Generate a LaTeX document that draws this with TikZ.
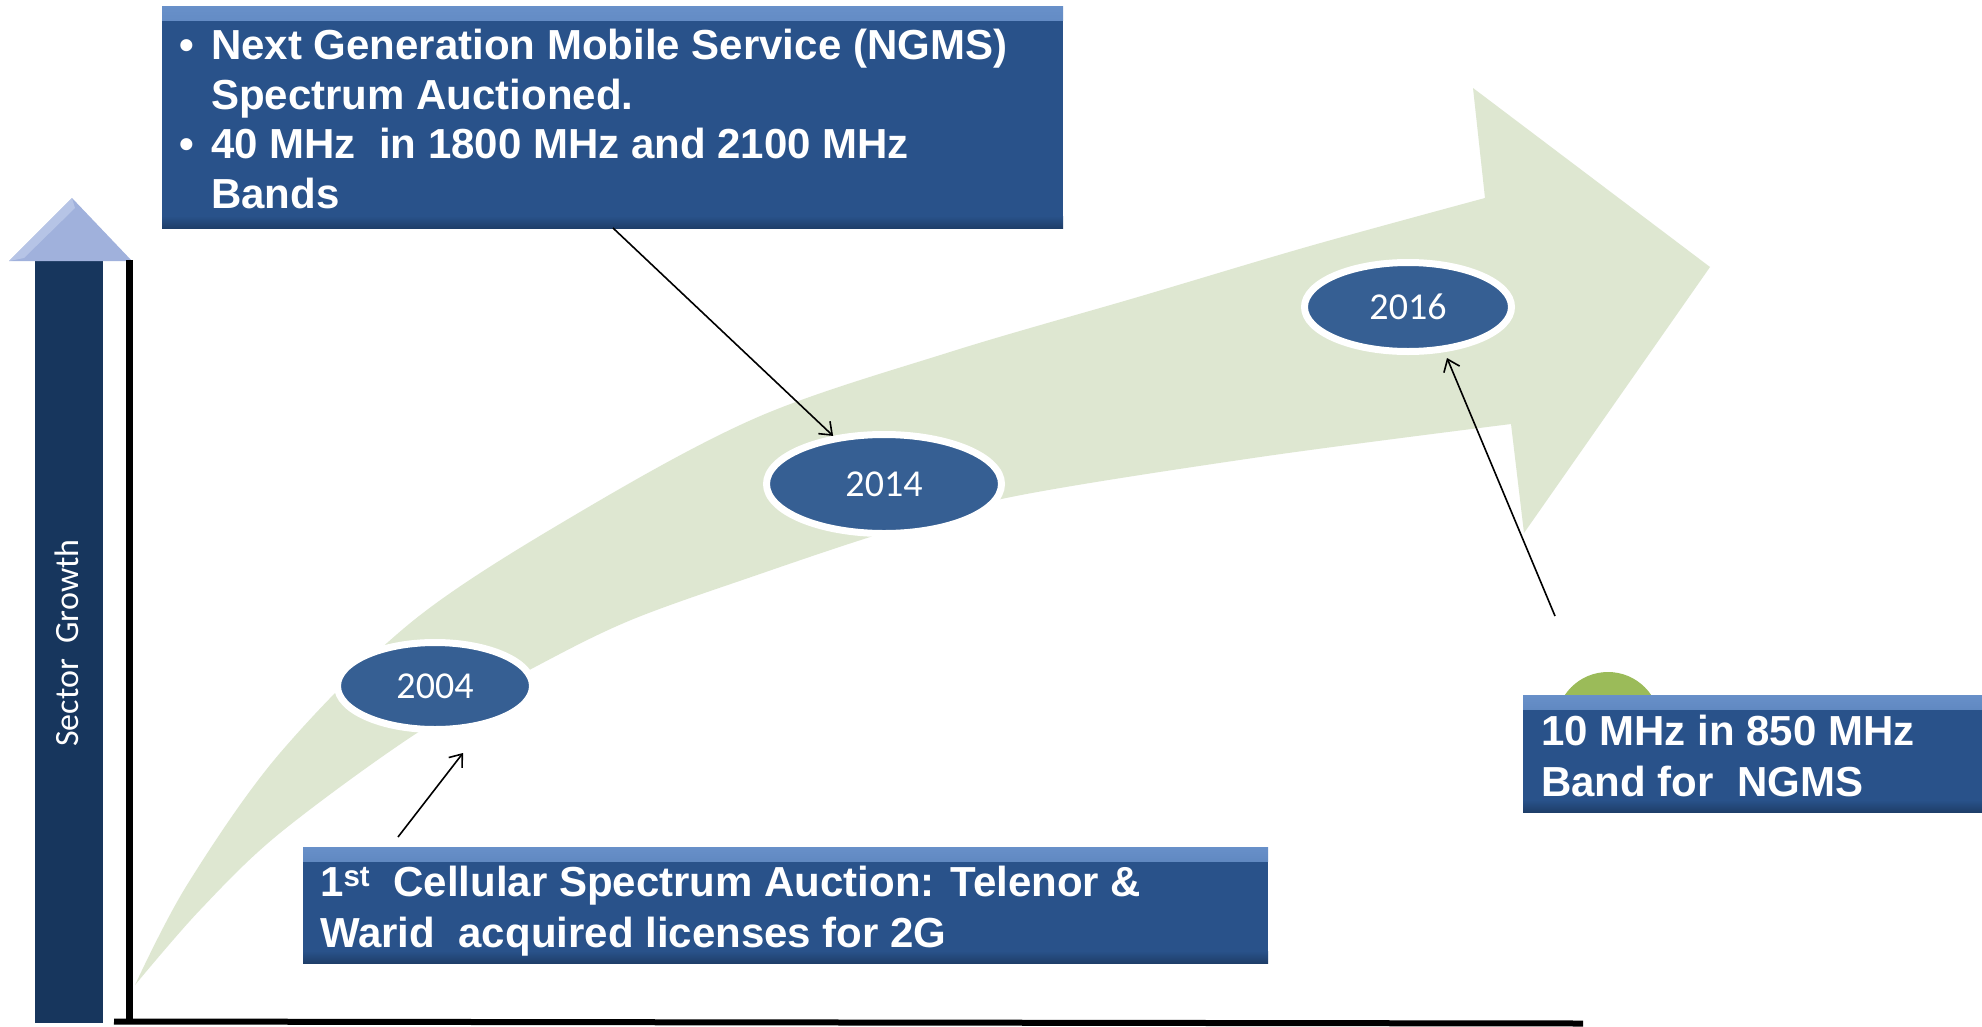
\documentclass[tikz,border=0pt]{standalone}
\usepackage{fontspec}
\setmainfont{Liberation Sans}
\newfontfamily\calib{Carlito}
\usetikzlibrary{arrows.meta,shapes.geometric}
\definecolor{boxblue}{HTML}{29528A}
\definecolor{boxlight}{HTML}{6890C9}
\definecolor{boxdark}{HTML}{1E3E69}
\definecolor{ellblue}{HTML}{365F93}
\definecolor{barblue}{HTML}{17365D}
\definecolor{trifill}{HTML}{A0B1DC}
\definecolor{trilight}{HTML}{B6C4E6}
\definecolor{arrowgreen}{HTML}{DEE7D1}
\definecolor{dotgreen}{HTML}{9BBB59}
\tikzset{
  bluebox/.style={rectangle, fill=boxblue, inner sep=0, outer sep=0, anchor=north west,
    path picture={
      \shade[top color=boxlight, bottom color=boxblue]
        (path picture bounding box.north west) rectangle ([yshift=-14pt]path picture bounding box.north east);
      \shade[top color=boxblue, bottom color=boxdark]
        ([yshift=12pt]path picture bounding box.south west) rectangle (path picture bounding box.south east);
    }},
  boxtext/.style={inner sep=0, anchor=base west, text=white, font=\fontsize{42}{50}\selectfont\bfseries},
  yearell/.style={ellipse, fill=ellblue, draw=white, line width=7pt, text=white, inner sep=0,
    font=\calib\fontsize{38}{40}\selectfont},
  conn/.style={draw=black, line width=1.6pt, -{Straight Barb[length=11pt,width=17pt]}},
}
\begin{document}
\begin{tikzpicture}[x=1pt,y=-1pt]
\useasboundingbox (0,0) rectangle (1982,1026);
\fill[white] (0,0) rectangle (1982,1026);

% big curved green arrow
\fill[arrowgreen]
  plot[smooth,tension=0.55] coordinates {(135,985) (187,885) (280,753) (414,620) (580,512) (758,417) (950,352) (1138,297) (1310,246) (1485,198)}
  -- (1473,88) -- (1710,267) -- (1524,533) -- (1511,424)
  -- plot[smooth,tension=0.55] coordinates {(1511,424) (1260,457) (1011,497) (883,533) (757,575) (631,620) (535,667) (417,733) (280,833) (200,910) (135,985)}
  -- cycle;

% vertical growth bar with arrow head
\fill[barblue] (35,260) rectangle (103,1023);
\fill[trifill] (9,261) -- (72,198) -- (132,261) -- cycle;
\fill[trilight] (9,261) -- (72,198) -- (75,208) -- (24,258) -- cycle;
\node[rotate=90, anchor=base, inner sep=0, text=white, font=\calib\fontsize{34}{36}\selectfont] (sg) at (78,643) {Sector\ \ Growth};

% axes
\draw[line width=7pt] (129.5,260) -- (129.5,1024);
\draw[line width=6pt] (114,1021.5) -- (1583,1023.5);

% year ellipses
\node[yearell, minimum width=195pt, minimum height=87pt] (y2004) at (435,686) {2004};
\node[yearell, minimum width=235pt, minimum height=99pt] (y2014) at (884,484) {2014};
\node[yearell, minimum width=207pt, minimum height=89pt] (y2016) at (1408,307) {2016};

% green dot behind right box
\fill[dotgreen] (1608,724) circle[radius=52];

% boxes
\node[bluebox, minimum width=901pt, minimum height=222pt] (topbox) at (162,6) {};
\node[bluebox, minimum width=965pt, minimum height=116pt] (botbox) at (303,847) {};
\node[bluebox, minimum width=475pt, minimum height=117pt] (rightbox) at (1523,695) {};

% box texts
\node[boxtext] (t1) at (179,59) {\makebox[32pt][l]{•}Next Generation Mobile Service (NGMS)};
\node[boxtext] (t2) at (211,109) {Spectrum Auctioned.};
\node[boxtext] (t3) at (179,158) {\makebox[32pt][l]{•}40 MHz\ \ in 1800 MHz and 2100 MHz};
\node[boxtext] (t4) at (211,208) {Bands};

\node[boxtext] (b1) at (320,896) {1\textsuperscript{st}\ \ Cellular Spectrum Auction: Telenor \&};
\node[boxtext] (b2) at (320,947) {Warid\ \ acquired licenses for 2G};

\node[boxtext] (r1) at (1541,745) {10 MHz in 850 MHz};
\node[boxtext] (r2) at (1541,796) {Band for\ \ NGMS};

% connectors
\coordinate (a1s) at (613,228);
\draw[conn] (a1s) -- (y2014);
\coordinate (a2s) at (398,837);
\coordinate (a2e) at (463,753);
\draw[conn] (a2s) -- (a2e);
\coordinate (a3s) at (1555,616);
\coordinate (a3e) at (1447,358);
\draw[conn] (a3s) -- (a3e);
\end{tikzpicture}
\end{document}
